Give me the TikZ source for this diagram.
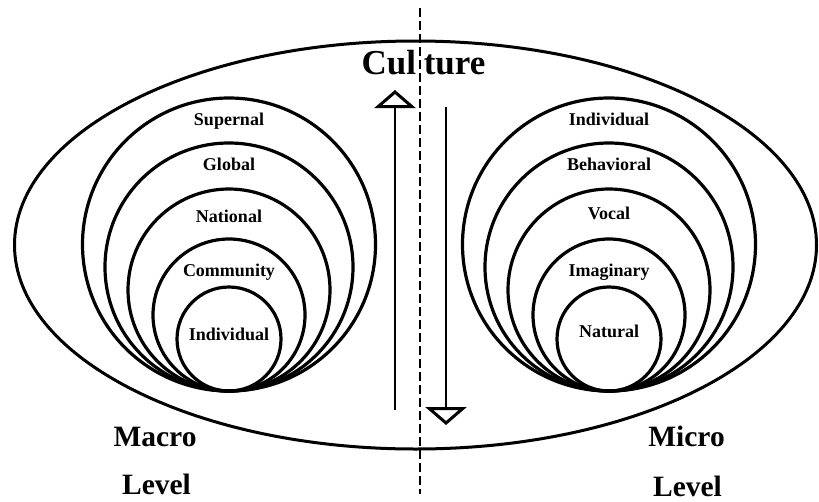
\documentclass[tikz,border=0pt]{standalone}
\usepackage{fontspec}
\setmainfont{Liberation Serif}
\usetikzlibrary{arrows.meta}
\tikzset{
  ring/.style={line width=3.2pt},
  lbl/.style={font=\bfseries\fontsize{18}{18}\selectfont, anchor=base, inner sep=0pt},
  big/.style={font=\bfseries\fontsize{29.5}{29.5}\selectfont, anchor=base, inner sep=0pt},
  arr/.style={line width=2.6pt, -{Triangle[open, width=41pt, length=18pt, line width=3pt]}},
}
\begin{document}
\begin{tikzpicture}[x=1pt,y=-1pt]
\useasboundingbox (0,0) rectangle (819,501);
% outer ellipse
\draw[line width=3pt] (415.5,245) ellipse [x radius=401, y radius=204];
% left nested circles
\foreach \r in {52,76,101,124,146.5}{
  \draw[ring] (229,{391-\r}) circle [radius=\r];
}
% right nested circles
\foreach \r in {52,76,101,124,146.5}{
  \draw[ring] (609,{391-\r}) circle [radius=\r];
}
% left labels
\node[lbl] (l5) at (229,125) {Supernal};
\node[lbl] (l4) at (229,170.5) {Global};
\node[lbl] (l3) at (229,222.5) {National};
\node[lbl] (l2) at (229,276.5) {Community};
\node[lbl] (l1) at (229,340) {Individual};
% right labels
\node[lbl] (r5) at (609,125) {Individual};
\node[lbl] (r4) at (609,170.5) {Behavioral};
\node[lbl] (r3) at (609,219.5) {Vocal};
\node[lbl] (r2) at (609,276) {Imaginary};
\node[lbl] (r1) at (609,337.5) {Natural};
% title
\node[font=\bfseries\fontsize{35}{35}\selectfont, anchor=base, inner sep=0pt] (cult) at (423.5,74) {Cul\hspace{0.22em}ture};
% level labels
\node[big] (macro) at (155,446.5) {Macro};
\node[big] (mlev) at (156.5,494) {Level};
\node[big] (micro) at (686.5,446) {Micro};
\node[big] (milev) at (687.5,496) {Level};
% arrows
\coordinate (ub) at (395,410);
\coordinate (ut) at (395,90);
\coordinate (dt) at (446,107);
\coordinate (db) at (446,425);
\draw[arr] (ub) -- (ut);
\draw[arr] (dt) -- (db);
% dashed divider
\coordinate (dtop) at (420,8);
\coordinate (dbot) at (420,494);
\draw[line width=2.2pt, dash pattern=on 9pt off 4pt] (dtop) -- (dbot);
\end{tikzpicture}
\end{document}
